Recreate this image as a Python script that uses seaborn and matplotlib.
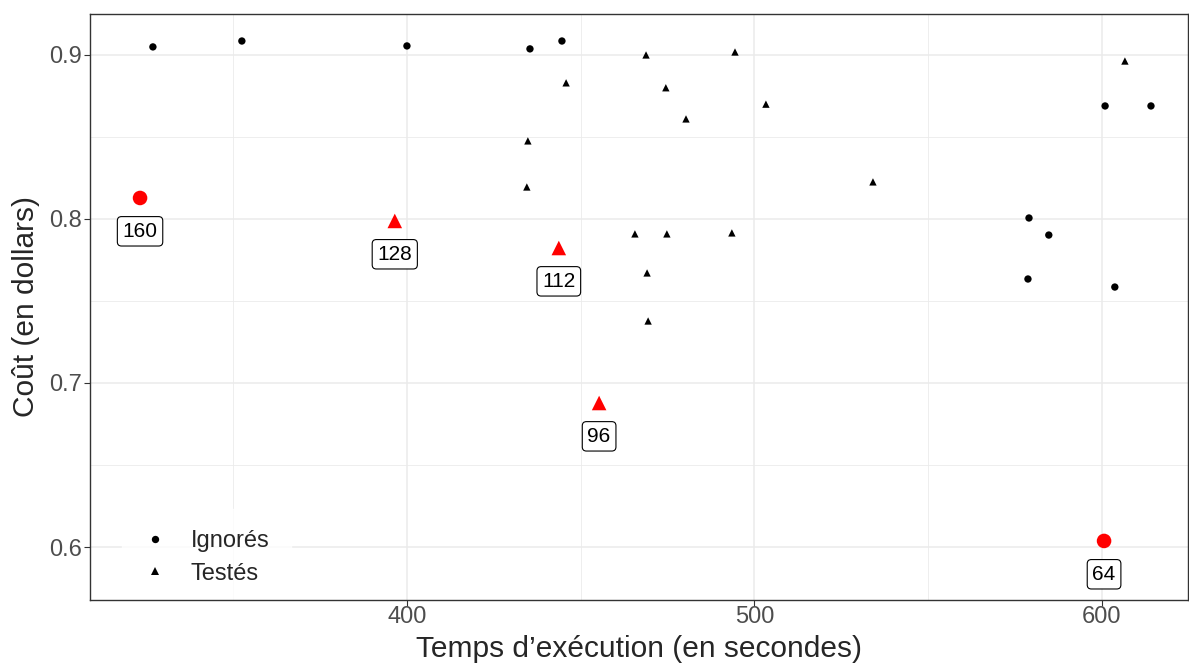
import numpy as np
import pandas as pd
import seaborn as sns
import matplotlib.pyplot as plt
from matplotlib.ticker import MultipleLocator

# ============================
# DATA
# ============================
ign_x = [326.9, 352.5, 400.0, 435.4, 444.6, 579.0, 584.7, 578.7, 603.7, 600.9, 614.1]
ign_y = [0.9049, 0.9085, 0.9055, 0.9037, 0.9085, 0.8006, 0.7902, 0.7634, 0.7585, 0.8689, 0.8689]

test_x = [468.8, 494.4, 445.8, 474.5, 480.3, 503.3, 434.8, 434.5, 534.1, 606.6,
          465.6, 474.8, 493.5, 469.1, 469.4]
test_y = [0.900, 0.9018, 0.883, 0.880, 0.861, 0.870, 0.8476, 0.8195, 0.8226, 0.8963,
          0.7909, 0.7909, 0.7915, 0.7671, 0.7378]

best_x = [323.2, 600.6, 396.5, 443.7, 455.3]
best_y = [0.8128, 0.6037, 0.7988, 0.7823, 0.6878]
best_kind = ["Ignorés", "Ignorés", "Testés", "Testés", "Testés"]
best_lab = ["160", "64", "128", "112", "96"]

df = pd.DataFrame({
    "temps": ign_x + test_x,
    "cout": ign_y + test_y,
    "type": ["Ignorés"] * len(ign_x) + ["Testés"] * len(test_x),
})
best = pd.DataFrame({"temps": best_x, "cout": best_y, "type": best_kind, "lab": best_lab})

# ============================
# STYLE
# ============================
sns.set_theme(style="white")
plt.rcParams["font.family"] = ["Liberation Sans", "DejaVu Sans"]

fig = plt.figure(figsize=(11.89, 6.64), dpi=100)
ax = fig.add_axes([0.0757, 0.0964, 0.9233, 0.8826])

markers = {"Ignorés": "o", "Testés": "^"}

sns.scatterplot(data=df, x="temps", y="cout", style="type", markers=markers,
                color="black", s=28, linewidth=0, ax=ax, zorder=3)
sns.scatterplot(data=best, x="temps", y="cout", style="type", markers=markers,
                color="red", s=110, linewidth=0, ax=ax, legend=False, zorder=3)

# labels under the red points
for _, r in best.iterrows():
    ax.annotate(r["lab"], (r["temps"], r["cout"]), xytext=(0, -24),
                textcoords="offset points", ha="center", va="center", fontsize=15,
                color="black", zorder=4,
                bbox=dict(boxstyle="round,pad=0.25,rounding_size=0.2", fc="white",
                          ec="black", lw=0.8))

ax.set_xlim(308.8, 624.7)
ax.set_ylim(0.5677, 0.925)
ax.xaxis.set_major_locator(MultipleLocator(100))
ax.xaxis.set_minor_locator(MultipleLocator(50))
ax.yaxis.set_major_locator(MultipleLocator(0.1))
ax.yaxis.set_minor_locator(MultipleLocator(0.05))
ax.grid(True, which="major", color="#EBEBEB", lw=1.1, zorder=0)
ax.grid(True, which="minor", color="#EBEBEB", lw=0.6, zorder=0)
ax.set_axisbelow(True)

ax.tick_params(axis="both", which="major", labelsize=17, labelcolor="#4D4D4D",
               length=4, width=0.8, color="#333333", bottom=True, left=True, pad=2)
ax.tick_params(axis="x", which="major", pad=0.5)
ax.tick_params(which="minor", length=0)
for s in ax.spines.values():
    s.set_color("#333333")
    s.set_linewidth(1.0)
    s.set_zorder(6)

ax.set_xlabel("Temps d’exécution (en secondes)", fontsize=21.5, labelpad=5)
ax.set_ylabel("Coût (en dollars)", fontsize=21.5, labelpad=6)

leg = ax.legend(title=None, loc="lower left", bbox_to_anchor=(0.025, -0.018),
                frameon=True, fontsize=17, handlelength=1.0, handletextpad=1.0,
                labelspacing=0.45, borderpad=0.6, markerscale=1.0)
leg.get_frame().set_facecolor("white")
leg.get_frame().set_edgecolor("white")
leg.get_frame().set_boxstyle("square")

fig.savefig("out.png", dpi=100)
